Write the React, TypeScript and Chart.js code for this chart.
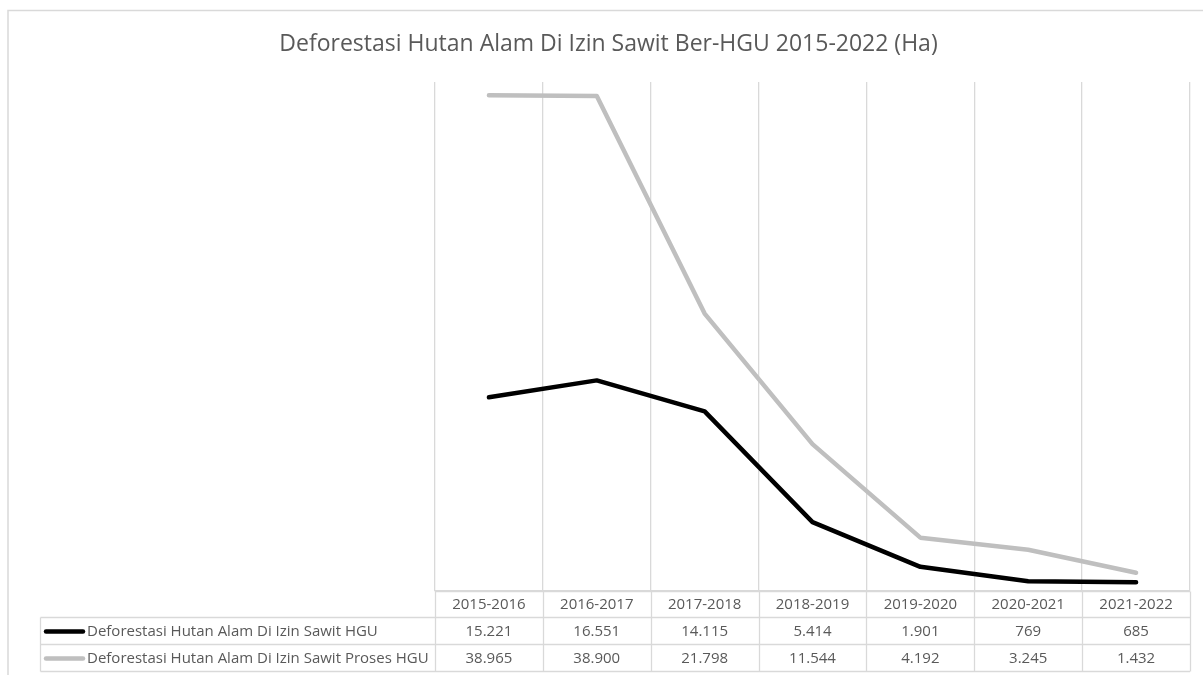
import React, { useEffect, useRef } from 'react';
import { Chart, registerables } from 'chart.js';

Chart.register(...registerables);

// ---- Data ----
const chartTitle = 'Deforestasi Hutan Alam Di Izin Sawit Ber-HGU 2015-2022 (Ha)';
const categories = ['2015-2016', '2016-2017', '2017-2018', '2018-2019', '2019-2020', '2020-2021', '2021-2022'];
const seriesHguName = 'Deforestasi Hutan Alam Di Izin Sawit HGU';
const seriesHguValues = [15221, 16551, 14115, 5414, 1901, 769, 685];
const seriesProsesName = 'Deforestasi Hutan Alam Di Izin Sawit Proses HGU';
const seriesProsesValues = [38965, 38900, 21798, 11544, 4192, 3245, 1432];

// ---- Styles ----
const W = 1203;
const H = 675;
const FONT = '"Open Sans", sans-serif';
const TEXT = '#595959';
const GRID = '#d9d9d9';
const TABLE_FONT_SIZE = 15;
const ROW_H = 27;

function fmt(v: number): string {
  return String(v).replace(/\B(?=(\d{3})+(?!\d))/g, '.');
}

const frameAndTable = {
  id: 'frameAndTable',
  beforeDraw(chart: any) {
    const ctx = chart.ctx;
    ctx.save();
    ctx.fillStyle = '#ffffff';
    ctx.fillRect(0, 0, chart.width, chart.height);
    ctx.strokeStyle = GRID;
    ctx.lineWidth = 1.5;
    ctx.strokeRect(8, 10.5, chart.width + 20, chart.height + 20);
    ctx.restore();
  },
  afterDraw(chart: any) {
    const ctx = chart.ctx;
    const xs = chart.scales.x;
    const area = chart.chartArea;
    const n = categories.length;
    const step = xs.getPixelForValue(1) - xs.getPixelForValue(0);
    const firstEdge = xs.getPixelForValue(0) - step / 2;
    const headerTop = Math.round(area.bottom) + 0.5;
    const headerBottom = headerTop + 26;
    const datasets = chart.data.datasets;
    const tableBottom = headerBottom + ROW_H * datasets.length;
    const labelLeft = 40.5;

    ctx.save();
    ctx.strokeStyle = GRID;
    ctx.lineWidth = 1.3;
    for (let i = 0; i <= n; i++) {
      const px = Math.round(firstEdge + i * step) + 0.5;
      ctx.beginPath();
      ctx.moveTo(px, headerTop);
      ctx.lineTo(px, tableBottom);
      ctx.stroke();
    }
    ctx.beginPath();
    ctx.moveTo(labelLeft, headerBottom);
    ctx.lineTo(labelLeft, tableBottom);
    ctx.stroke();
    ctx.beginPath();
    ctx.moveTo(firstEdge, headerTop);
    ctx.lineTo(firstEdge + n * step, headerTop);
    ctx.stroke();
    for (let r = 0; r <= datasets.length; r++) {
      const y = headerBottom + r * ROW_H;
      ctx.beginPath();
      ctx.moveTo(labelLeft, y);
      ctx.lineTo(firstEdge + n * step, y);
      ctx.stroke();
    }

    ctx.font = `${TABLE_FONT_SIZE}px ${FONT}`;
    ctx.fillStyle = TEXT;
    ctx.textBaseline = 'middle';
    datasets.forEach((ds: any, r: number) => {
      const cy = headerBottom + r * ROW_H + ROW_H / 2 + 0.5;
      ctx.save();
      ctx.strokeStyle = ds.borderColor;
      ctx.lineWidth = 4.5;
      ctx.lineCap = 'round';
      ctx.beginPath();
      ctx.moveTo(46, cy);
      ctx.lineTo(83, cy);
      ctx.stroke();
      ctx.restore();
      ctx.textAlign = 'left';
      ctx.fillText(ds.label, 87, cy);
      ctx.textAlign = 'center';
      ds.data.forEach((v: number, i: number) => {
        ctx.fillText(fmt(v), xs.getPixelForValue(i), cy);
      });
    });
    ctx.restore();
  },
};

export default function App() {
  const canvasRef = useRef<HTMLCanvasElement | null>(null);

  useEffect(() => {
    if (!canvasRef.current) return;
    const chart = new Chart(canvasRef.current, {
      type: 'line',
      data: {
        labels: categories,
        datasets: [
          {
            label: seriesHguName,
            data: seriesHguValues,
            borderColor: '#000000',
            backgroundColor: '#000000',
            borderWidth: 4.5,
            pointRadius: 0,
            tension: 0,
            borderCapStyle: 'round',
            borderJoinStyle: 'round',
          },
          {
            label: seriesProsesName,
            data: seriesProsesValues,
            borderColor: '#bfbfbf',
            backgroundColor: '#bfbfbf',
            borderWidth: 4.5,
            pointRadius: 0,
            tension: 0,
            borderCapStyle: 'round',
            borderJoinStyle: 'round',
          },
        ],
      },
      options: {
        responsive: false,
        animation: false,
        devicePixelRatio: 1,
        layout: { padding: { left: 27, right: 13, top: 0, bottom: 57 } },
        plugins: {
          legend: { display: false },
          tooltip: { enabled: false },
          title: {
            display: true,
            text: chartTitle,
            color: TEXT,
            font: { family: FONT, size: 23, weight: 'normal' },
            padding: { top: 31, bottom: 23.4 },
          },
        },
        scales: {
          x: {
            offset: true,
            grid: { offset: true, color: GRID, lineWidth: 1.3, drawTicks: false },
            border: { color: GRID, width: 1.3 },
            ticks: {
              color: TEXT,
              font: { family: FONT, size: TABLE_FONT_SIZE },
              padding: 5,
              maxRotation: 0,
              autoSkip: false,
            },
            afterFit: (s: any) => {
              s.height = 27;
            },
          },
          y: {
            min: 0,
            max: 40000,
            grid: { display: false, drawTicks: false },
            border: { display: false },
            ticks: { display: false },
            afterFit: (s: any) => {
              s.width = 408;
            },
          },
        },
      },
      plugins: [frameAndTable],
    } as any);
    return () => chart.destroy();
  }, []);

  return (
    <div style={{ position: 'fixed', left: 0, top: 0, width: W, height: H, background: '#fff' }}>
      <canvas ref={canvasRef} width={W} height={H} style={{ display: 'block', width: W, height: H }} />
    </div>
  );
}
